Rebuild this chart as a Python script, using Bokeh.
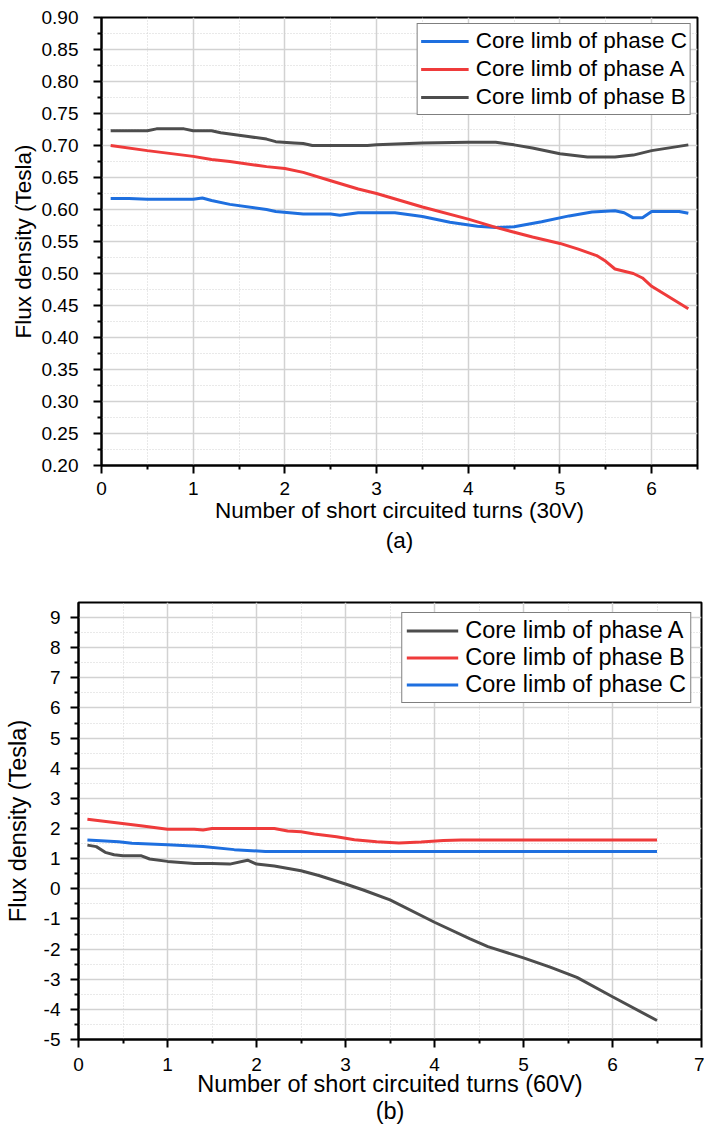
from bokeh.plotting import figure
from bokeh.models import (FixedTicker, Legend, LegendItem, Title, Range1d)
from bokeh.embed import file_html
from bokeh.resources import INLINE

FONT = "Liberation Sans"
BLUE = "#1e6fdf"
RED = "#ef3b3b"
GRAY = "#4d4d4d"

# ---------------- (a) 30 V ----------------
a_x_label = "Number of short circuited turns (30V)"
a_y_label = "Flux density (Tesla)"
a_xticks = [0, 1, 2, 3, 4, 5, 6]
a_xminor = [0.5, 1.5, 2.5, 3.5, 4.5, 5.5, 6.5]
a_yticks = [0.20, 0.25, 0.30, 0.35, 0.40, 0.45, 0.50, 0.55, 0.60, 0.65,
            0.70, 0.75, 0.80, 0.85, 0.90]
a_ytick_labels = ["0.20", "0.25", "0.30", "0.35", "0.40", "0.45", "0.50",
                  "0.55", "0.60", "0.65", "0.70", "0.75", "0.80", "0.85",
                  "0.90"]
a_yminor = [0.225, 0.275, 0.325, 0.375, 0.425, 0.475, 0.525, 0.575,
            0.625, 0.675, 0.725, 0.775, 0.825, 0.875]

a_c_name = "Core limb of phase C"
a_c_x = [0.1, 0.3, 0.5, 1.0, 1.1, 1.2, 1.4, 1.8, 1.9, 2.2, 2.5, 2.6, 2.8,
         3.0, 3.2, 3.5, 3.8, 4.1, 4.3, 4.5, 4.8, 5.1, 5.35, 5.6, 5.7, 5.8,
         5.9, 6.0, 6.3, 6.4]
a_c_y = [0.617, 0.617, 0.616, 0.616, 0.618, 0.614, 0.608, 0.600, 0.597,
         0.593, 0.593, 0.591, 0.595, 0.595, 0.595, 0.589, 0.580, 0.574,
         0.572, 0.573, 0.581, 0.590, 0.596, 0.598, 0.595, 0.587, 0.587,
         0.597, 0.597, 0.594]

a_a_name = "Core limb of phase A"
a_a_x = [0.1, 0.5, 1.0, 1.2, 1.4, 1.8, 2.0, 2.2, 2.5, 2.8, 3.0, 3.5, 4.0,
         4.3, 4.7, 5.0, 5.2, 5.4, 5.5, 5.6, 5.8, 5.9, 6.0, 6.4]
a_a_y = [0.700, 0.692, 0.683, 0.678, 0.675, 0.667, 0.664, 0.658, 0.645,
         0.632, 0.625, 0.604, 0.585, 0.572, 0.557, 0.547, 0.538, 0.528,
         0.519, 0.507, 0.500, 0.493, 0.480, 0.445]

a_b_name = "Core limb of phase B"
a_b_x = [0.1, 0.5, 0.6, 0.9, 1.0, 1.2, 1.3, 1.6, 1.8, 1.9, 2.1, 2.2, 2.3,
         2.6, 2.9, 3.0, 3.5, 4.0, 4.3, 4.5, 4.7, 5.0, 5.3, 5.6, 5.8, 6.0, 6.4]
a_b_y = [0.723, 0.723, 0.726, 0.726, 0.723, 0.723, 0.720, 0.714, 0.710,
         0.706, 0.704, 0.703, 0.700, 0.700, 0.700, 0.701, 0.704, 0.705,
         0.705, 0.701, 0.696, 0.687, 0.682, 0.682, 0.685, 0.692, 0.701]

# ---------------- (b) 60 V ----------------
b_x_label = "Number of short circuited turns (60V)"
b_y_label = "Flux density (Tesla)"
b_xticks = [0, 1, 2, 3, 4, 5, 6, 7]
b_xminor = [0.5, 1.5, 2.5, 3.5, 4.5, 5.5, 6.5]
b_yticks = [-5, -4, -3, -2, -1, 0, 1, 2, 3, 4, 5, 6, 7, 8, 9]
b_ytick_labels = ["-5", "-4", "-3", "-2", "-1", "0", "1", "2", "3", "4",
                  "5", "6", "7", "8", "9"]
b_yminor = [-4.5, -3.5, -2.5, -1.5, -0.5, 0.5, 1.5, 2.5, 3.5, 4.5, 5.5,
            6.5, 7.5, 8.5]

b_a_name = "Core limb of phase A"
b_a_x = [0.1, 0.2, 0.3, 0.4, 0.5, 0.7, 0.8, 1.0, 1.3, 1.5, 1.7, 1.9, 2.0,
         2.2, 2.5, 2.7, 3.0, 3.2, 3.5, 4.0, 4.4, 4.6, 5.0, 5.3, 5.6, 6.0, 6.5]
b_a_y = [1.45, 1.40, 1.21, 1.13, 1.10, 1.10, 0.99, 0.91, 0.84, 0.84, 0.82,
         0.95, 0.82, 0.76, 0.60, 0.44, 0.16, -0.04, -0.37, -1.11, -1.66,
         -1.92, -2.29, -2.60, -2.94, -3.58, -4.37]

b_b_name = "Core limb of phase B"
b_b_x = [0.1, 0.4, 0.7, 1.0, 1.3, 1.4, 1.5, 2.2, 2.35, 2.5, 2.65, 2.9, 3.1,
         3.35, 3.6, 3.85, 4.1, 4.3, 6.5]
b_b_y = [2.31, 2.20, 2.09, 1.98, 1.98, 1.95, 2.00, 2.00, 1.92, 1.89, 1.82,
         1.73, 1.63, 1.56, 1.52, 1.55, 1.60, 1.62, 1.62]

b_c_name = "Core limb of phase C"
b_c_x = [0.1, 0.45, 0.6, 1.0, 1.4, 1.75, 2.1, 6.5]
b_c_y = [1.62, 1.56, 1.51, 1.46, 1.40, 1.30, 1.24, 1.24]


def make_fig(width, height, xr, yr, borders, xticks, xminor, yticks, yminor,
             ylabels, xlabel, ylabel, label_size, tick_size, xstand, ystand,
             x_lab_stand, y_lab_stand):
    top, right, bottom, left = borders
    p = figure(width=width, height=height, x_range=Range1d(*xr),
               y_range=Range1d(*yr), output_backend="svg",
               toolbar_location=None, min_border_top=top,
               min_border_right=right, min_border_bottom=bottom,
               min_border_left=left)
    p.background_fill_color = "white"
    p.border_fill_color = "white"
    p.outline_line_color = "black"
    p.outline_line_width = 2
    p.outline_line_alpha = 1

    p.xaxis.ticker = FixedTicker(ticks=xticks, minor_ticks=xminor)
    p.yaxis.ticker = FixedTicker(ticks=yticks, minor_ticks=yminor)
    p.yaxis.major_label_overrides = {t: s for t, s in zip(yticks, ylabels)}

    for ax, lab, st, lst in ((p.xaxis, xlabel, xstand, x_lab_stand),
                             (p.yaxis, ylabel, ystand, y_lab_stand)):
        ax.axis_label = lab
        ax.axis_label_text_font = FONT
        ax.axis_label_text_font_size = label_size
        ax.axis_label_text_font_style = "normal"
        ax.axis_label_text_color = "black"
        ax.axis_label_standoff = lst
        ax.major_label_text_font = FONT
        ax.major_label_text_font_size = tick_size
        ax.major_label_text_color = "black"
        ax.major_label_standoff = st
        ax.axis_line_color = "black"
        ax.axis_line_width = 2
        ax.major_tick_line_color = "black"
        ax.major_tick_line_width = 2
        ax.major_tick_in = 0
        ax.major_tick_out = 8
        ax.minor_tick_line_color = "black"
        ax.minor_tick_line_width = 2
        ax.minor_tick_in = 0
        ax.minor_tick_out = 4

    for g in (p.xgrid, p.ygrid):
        g.grid_line_color = "#d2d2d2"
        g.grid_line_width = 1.5
        g.minor_grid_line_color = "#d2d2d2"
        g.minor_grid_line_width = 1
        g.minor_grid_line_dash = "1 2"
    return p


def add_legend(p, items, font_size, glyph_w, item_h, margin, padding):
    leg = Legend(items=items, location="top_right")
    leg.label_text_font = FONT
    leg.label_text_font_size = font_size
    leg.label_text_color = "black"
    leg.glyph_width = glyph_w
    leg.glyph_height = item_h
    leg.label_height = item_h
    leg.spacing = 0
    leg.padding = padding
    leg.margin = margin
    leg.label_standoff = 7
    leg.border_line_color = "black"
    leg.border_line_width = 1
    leg.background_fill_color = "white"
    leg.background_fill_alpha = 1
    p.add_layout(leg)


# ---------- figure (a) ----------
p1 = make_fig(704, 560, (0, 6.5), (0.2, 0.9), (17, 7, 95, 101),
              a_xticks, a_xminor, a_yticks, a_yminor, a_ytick_labels,
              a_x_label, a_y_label, "22.5px", "19px", 8, 15, 0, 3)
r_ac = p1.line(a_c_x, a_c_y, line_color=BLUE, line_width=3)
r_aa = p1.line(a_a_x, a_a_y, line_color=RED, line_width=3)
r_ab = p1.line(a_b_x, a_b_y, line_color=GRAY, line_width=3)
add_legend(p1, [LegendItem(label=a_c_name, renderers=[r_ac]),
                LegendItem(label=a_a_name, renderers=[r_aa]),
                LegendItem(label=a_b_name, renderers=[r_ab])],
           "22.5px", 48, 28, 6, 3)
p1.add_layout(Title(text="(a)", align="center", text_font=FONT,
                    text_font_size="22.5px", text_font_style="normal",
                    text_color="black", standoff=0), "below")

# ---------- figure (b) ----------
p2 = make_fig(704, 565, (0, 7), (-5, 9.5), (42, 3, 86, 78),
              b_xticks, b_xminor, b_yticks, b_yminor, b_ytick_labels,
              b_x_label, b_y_label, "23.5px", "19px", 10, 10, -3, 10)
r_ba = p2.line(b_a_x, b_a_y, line_color=GRAY, line_width=3)
r_bb = p2.line(b_b_x, b_b_y, line_color=RED, line_width=3)
r_bc = p2.line(b_c_x, b_c_y, line_color=BLUE, line_width=3)
add_legend(p2, [LegendItem(label=b_a_name, renderers=[r_ba]),
                LegendItem(label=b_b_name, renderers=[r_bb]),
                LegendItem(label=b_c_name, renderers=[r_bc])],
           "23.5px", 52, 27, 10, 4)
p2.add_layout(Title(text="(b)", align="center", text_font=FONT,
                    text_font_size="23.5px", text_font_style="normal",
                    text_color="black", standoff=-8), "below")

open("out.html", "w").write(file_html([p1, p2], INLINE))
